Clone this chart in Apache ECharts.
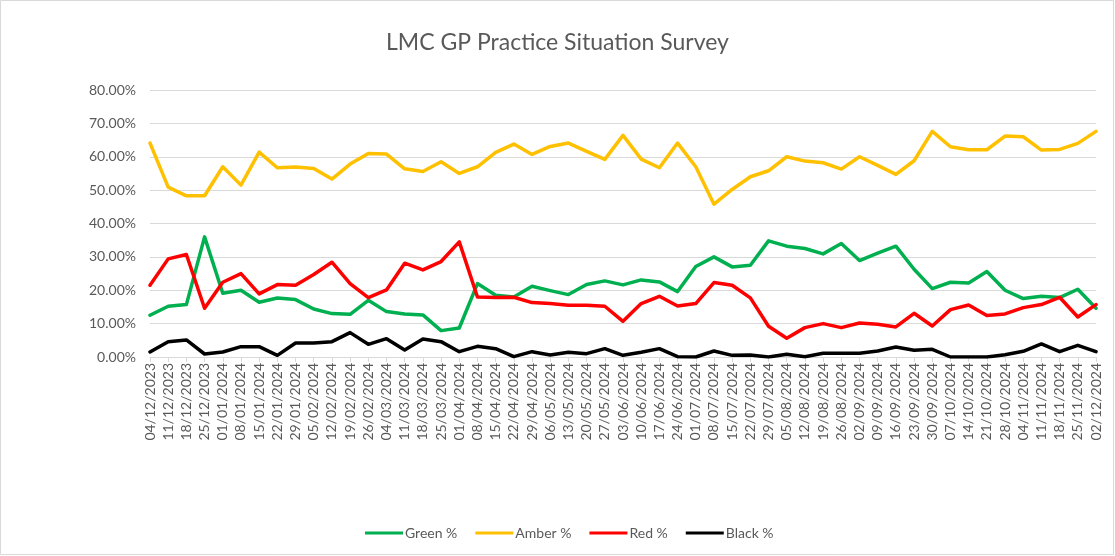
<!DOCTYPE html>
<html>
<head>
<meta charset="utf-8">
<script src="https://cdn.jsdelivr.net/npm/echarts@6/dist/echarts.min.js"></script>
<style>
html,body{margin:0;padding:0;background:#fff;}
#chart{width:1115px;height:556px;}
</style>
</head>
<body>
<div id="chart"></div>
<script>
const categories = ["04/12/2023","11/12/2023","18/12/2023","25/12/2023","01/01/2024","08/01/2024","15/01/2024","22/01/2024","29/01/2024","05/02/2024","12/02/2024","19/02/2024","26/02/2024","04/03/2024","11/03/2024","18/03/2024","25/03/2024","01/04/2024","08/04/2024","15/04/2024","22/04/2024","29/04/2024","06/05/2024","13/05/2024","20/05/2024","27/05/2024","03/06/2024","10/06/2024","17/06/2024","24/06/2024","01/07/2024","08/07/2024","15/07/2024","22/07/2024","29/07/2024","05/08/2024","12/08/2024","19/08/2024","26/08/2024","02/09/2024","09/09/2024","16/09/2024","23/09/2024","30/09/2024","07/10/2024","14/10/2024","21/10/2024","28/10/2024","04/11/2024","11/11/2024","18/11/2024","25/11/2024","02/12/2024"];

const greenPct = [12.5,15.2,15.7,36.0,19.1,20.0,16.4,17.7,17.2,14.4,13.0,12.8,17.0,13.6,12.9,12.6,7.9,8.7,22.0,18.5,18.0,21.2,19.9,18.7,21.7,22.8,21.6,23.1,22.5,19.6,27.1,30.0,27.0,27.5,34.8,33.2,32.5,30.9,34.0,28.9,31.1,33.2,26.3,20.5,22.4,22.2,25.6,20.0,17.5,18.2,17.8,20.3,14.6];
const amberPct = [64.1,50.9,48.3,48.3,57.0,51.5,61.4,56.7,56.9,56.5,53.3,57.8,61.0,60.8,56.4,55.6,58.5,55.0,57.0,61.3,63.8,60.7,63.1,64.1,61.6,59.2,66.4,59.3,56.7,64.1,57.0,45.8,50.2,54.0,55.8,60.0,58.7,58.2,56.3,60.0,57.4,54.7,58.8,67.6,63.0,62.1,62.1,66.2,66.0,62.0,62.2,64.0,67.6];
const redPct = [21.5,29.4,30.7,14.6,22.4,25.0,18.9,21.7,21.5,24.7,28.4,22.0,17.8,20.1,28.1,26.1,28.6,34.5,18.0,17.8,17.9,16.3,16.0,15.5,15.5,15.2,10.7,16.0,18.2,15.3,16.0,22.3,21.5,17.7,9.2,5.6,8.8,10.0,8.8,10.2,9.8,9.0,13.1,9.3,14.2,15.6,12.4,12.9,14.8,15.7,17.9,12.0,15.7];
const blackPct = [1.5,4.6,5.1,0.9,1.5,3.1,3.1,0.5,4.2,4.2,4.6,7.3,3.8,5.5,2.1,5.4,4.6,1.6,3.2,2.5,0.1,1.6,0.6,1.4,1.0,2.5,0.5,1.4,2.5,0.1,0.0,1.8,0.5,0.6,0.0,0.8,0.1,1.1,1.1,1.1,1.8,3.0,2.0,2.3,0.0,0.0,0.0,0.7,1.7,3.9,1.6,3.5,1.6];

const seriesNames = ["Green %","Amber %","Red %","Black %"];
const seriesColors = ["#00B050","#FFC000","#FF0000","#000000"];
const seriesData = [greenPct, amberPct, redPct, blackPct];

const FONT = "Lato, 'Open Sans', sans-serif";
const chart = echarts.init(document.getElementById('chart'), null, {renderer:'canvas'});
chart.setOption({
  backgroundColor: '#ffffff',
  animation: false,
  textStyle: { fontFamily: FONT },
  title: {
    text: 'LMC GP Practice Situation Survey',
    left: 'center',
    top: 26,
    textStyle: { fontFamily: FONT, fontSize: 23, fontWeight: 'normal', color: '#595959' }
  },
  graphic: [{
    type: 'rect',
    shape: { x: 0.5, y: 0.5, width: 1113, height: 554 },
    style: { fill: 'none', stroke: '#d9d9d9', lineWidth: 1 },
    silent: true
  }],
  legend: {
    bottom: 11,
    left: 360,
    itemWidth: 38,
    itemHeight: 3,
    itemGap: 18,
    icon: 'rect',
    textStyle: { fontFamily: FONT, fontSize: 14, color: '#595959', padding: [0,0,0,-3] },
    data: seriesNames
  },
  grid: { left: 150, right: 19, top: 90, bottom: 199, containLabel: false },
  xAxis: {
    type: 'category',
    data: categories,
    boundaryGap: false,
    axisLine: { show: true, lineStyle: { color: '#d9d9d9', width: 1 } },
    axisTick: { show: true, interval: 0, length: 5, lineStyle: { color: '#d9d9d9' } },
    axisLabel: { interval: 0, rotate: 90, fontSize: 14, color: '#595959', fontFamily: FONT, margin: 6 },
    splitLine: { show: false }
  },
  yAxis: {
    type: 'value',
    min: 0, max: 80, interval: 10,
    axisLine: { show: false },
    axisTick: { show: false },
    axisLabel: { fontSize: 14, color: '#595959', fontFamily: FONT, margin: 14,
      formatter: v => v.toFixed(2) + '%' },
    splitLine: { lineStyle: { color: '#d9d9d9', width: 1 } }
  },
  series: seriesNames.map((n, i) => ({
    name: n,
    type: 'line',
    data: seriesData[i],
    color: seriesColors[i],
    showSymbol: false,
    symbol: 'none',
    lineStyle: { width: 3.5, color: seriesColors[i], join: 'round', cap: 'round' },
    itemStyle: { color: seriesColors[i] }
  }))
});
</script>
</body>
</html>
